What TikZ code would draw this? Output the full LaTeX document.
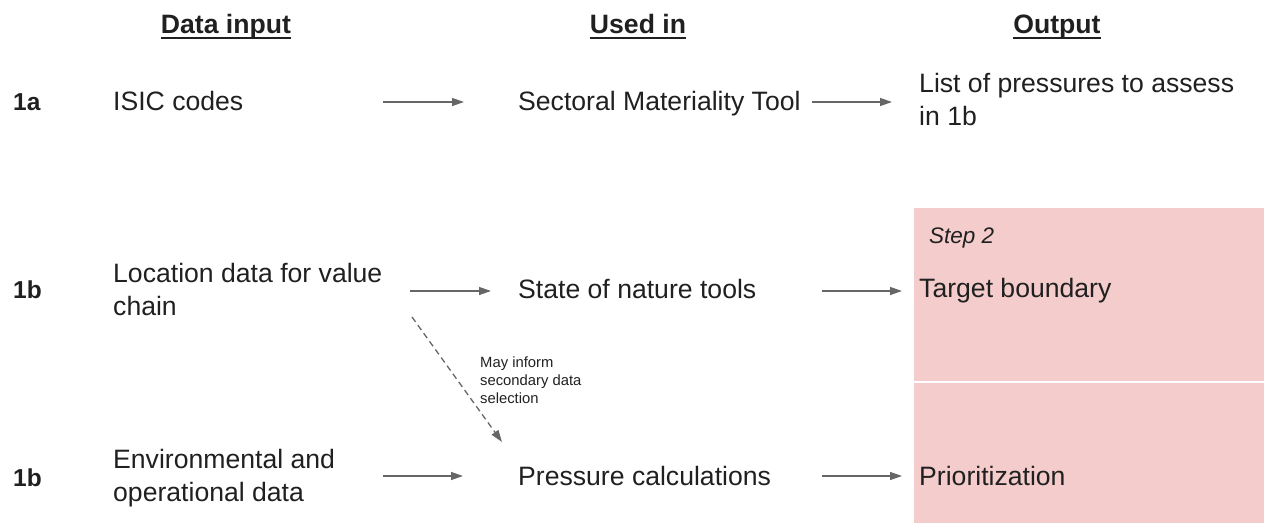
\documentclass[tikz,border=0pt]{standalone}
\usepackage{fontspec}
\setmainfont{Liberation Sans}
\usetikzlibrary{arrows.meta}
\definecolor{txt}{HTML}{202020}
\definecolor{arr}{HTML}{666666}
\definecolor{pinkbg}{HTML}{F4CCCC}
\begin{document}
\begin{tikzpicture}[x=1pt,y=-1pt,
  lbl/.style={inner sep=0pt, anchor=base west, text=txt, font=\fontsize{26.6}{32.5}\selectfont, align=left},
  hdr/.style={inner sep=0pt, anchor=base, text=txt, font=\fontsize{26.6}{32}\selectfont\bfseries},
  rowid/.style={inner sep=0pt, anchor=base west, text=txt, font=\fontsize{24.5}{30}\selectfont\bfseries},
  steplbl/.style={inner sep=0pt, anchor=base west, text=txt, font=\fontsize{22.5}{27}\selectfont\itshape},
  notelbl/.style={inner sep=0pt, anchor=base west, text=txt, font=\fontsize{14.8}{17.6}\selectfont, align=left},
  uline/.style={draw=txt, line width=2pt},
  flow/.style={draw=arr, line width=1.3pt, -{Triangle[length=12pt,width=8pt]}},
  dflow/.style={flow, dash pattern=on 6pt off 4pt}]
\useasboundingbox (0,0) rectangle (1264,523);
% output background
\fill[pinkbg] (914,208) rectangle (1264,523);
\draw[white, line width=1.5pt] (914,382) -- (1264,382);
% headers
\node[hdr] (h1) at (226,33) {Data input};
\node[hdr] (h2) at (638,33) {Used in};
\node[hdr] (h3) at (1057,33) {Output};
\foreach \h in {h1,h2,h3}
  \draw[uline] ([yshift=-4.5pt]\h.base west) -- ([yshift=-4.5pt]\h.base east);
% row ids
\node[rowid] (r1) at (13,110) {1a};
\node[rowid] (r2) at (13,298) {1b};
\node[rowid] (r3) at (13,486) {1b};
% row 1 (multi-line nodes are anchored at their last line)
\node[lbl] (isic) at (113,110) {ISIC codes};
\node[lbl] (smt) at (518,110) {Sectoral Materiality Tool};
\node[lbl] (list) at (919,125) {List of pressures to assess\\in 1b};
% row 2
\node[lbl] (loc) at (113,315) {Location data for value\\chain};
\node[lbl] (state) at (518,298) {State of nature tools};
\node[lbl] (target) at (919,297) {Target boundary};
\node[steplbl] (step) at (929,243) {Step 2};
% row 3
\node[lbl] (env) at (113,501) {Environmental and\\operational data};
\node[lbl] (press) at (518,485) {Pressure calculations};
\node[lbl] (prio) at (919,485) {Prioritization};
% note
\node[notelbl] (note) at (480,403) {May inform\\secondary data\\selection};
% connector end points
\coordinate (a1s) at (383,102); \coordinate (a1e) at (464,102);
\coordinate (a2s) at (812,102); \coordinate (a2e) at (892,102);
\coordinate (b1s) at (410,291); \coordinate (b1e) at (491,291);
\coordinate (b2s) at (822,291); \coordinate (b2e) at (902,291);
\coordinate (c1s) at (383,476); \coordinate (c1e) at (463,476);
\coordinate (c2s) at (822,476); \coordinate (c2e) at (902,476);
\coordinate (ds) at (412,317); \coordinate (de) at (502,442);
\draw[flow] (a1s) -- (a1e);
\draw[flow] (a2s) -- (a2e);
\draw[flow] (b1s) -- (b1e);
\draw[flow] (b2s) -- (b2e);
\draw[flow] (c1s) -- (c1e);
\draw[flow] (c2s) -- (c2e);
\draw[dflow] (ds) -- (de);
\end{tikzpicture}
\end{document}
